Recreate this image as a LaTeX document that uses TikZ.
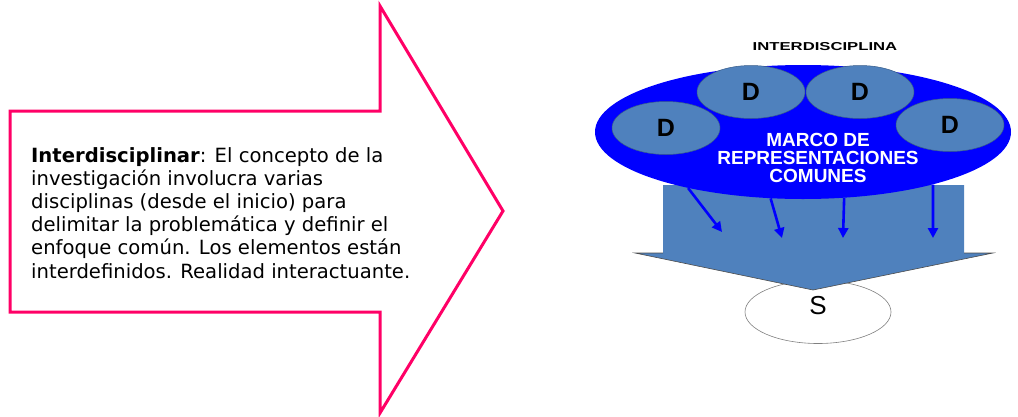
\documentclass[tikz,border=0pt]{standalone}
\usepackage{fontspec}
\setmainfont{DejaVu Sans}
\newfontfamily\arialf{Liberation Sans}
\usetikzlibrary{shapes.geometric,arrows.meta}
\definecolor{pinkline}{RGB}{255,0,102}
\definecolor{steel}{RGB}{79,129,189}
\definecolor{steeldark}{RGB}{56,93,138}
\definecolor{pureblue}{RGB}{0,0,255}
\tikzset{
  dnode/.style={ellipse, fill=steel, draw=steeldark, line width=0.5pt, minimum width=108pt, minimum height=53pt, inner sep=0pt,
    font=\arialf\bfseries\fontsize{25}{25}\selectfont},
  smallarrow/.style={draw=pureblue, line width=2.6pt, -{Triangle[length=10pt,width=10pt]}},
}
\begin{document}
\begin{tikzpicture}[x=1pt,y=-1pt]
\useasboundingbox (0,0) rectangle (1018,416);
% pink block arrow
\draw[pinkline, line width=3pt, line join=miter, fill=white]
  (10,111) -- (380,111) -- (380,6) -- (503,211) -- (380,413) -- (380,312) -- (10,312) -- cycle;
\node[anchor=north west, inner sep=0pt, align=left, font=\fontsize{19.6}{23.2}\selectfont] (txt) at (31,147)
  {\textbf{Interdisciplinar}: El concepto de la\\
   investigación involucra varias\\
   disciplinas (desde el inicio) para\\
   delimitar la problemática y definir el\\
   enfoque común. Los elementos están\\
   interdefinidos. Realidad interactuante.};
% S ellipse
\node[ellipse, draw=gray, fill=white, line width=0.6pt, minimum width=146pt, minimum height=63pt, inner sep=0pt] (s) at (818,312) {};
\node[font=\arialf\fontsize{26}{26}\selectfont, inner sep=0pt] (slab) at (818,306) {S};
% down arrow
\fill[steel] (663,185) -- (964,185) -- (964,253) -- (993,253) -- (813,290) -- (635,253) -- (663,253) -- cycle;
\draw[black!70, line width=0.6pt] (663,253) -- (635,253) -- (813,290) -- (993,253) -- (964,253);
% big ellipse
\node[ellipse, fill=pureblue, minimum width=416pt, minimum height=134pt, inner sep=0pt] (mc) at (803,132) {};
% D ellipses
\node[dnode] (d1) at (666,128) {D};
\node[dnode] (d2) at (751,92) {D};
\node[dnode] (d3) at (860,92) {D};
\node[dnode] (d4) at (950,125) {D};
\node[text=white, align=center, inner sep=0pt, font=\arialf\bfseries\fontsize{19}{18}\selectfont] (marco) at (818,158)
  {MARCO DE\\REPRESENTACIONES\\COMUNES};
\node[inner sep=0pt, font=\arialf\bfseries\fontsize{11.5}{11.5}\selectfont] (title) at (825,47) {\scalebox{1.45}[1]{INTERDISCIPLINA}};
% small arrows
\coordinate (e1) at (722,232);
\coordinate (e2) at (782,238);
\coordinate (e3) at (843,238);
\coordinate (e4) at (933,238);
\draw[smallarrow] (mc.206) -- (e1);
\draw[smallarrow] (mc.244) -- (e2);
\draw[smallarrow] (mc.302) -- (e3);
\draw[smallarrow] (mc.338) -- (e4);
\end{tikzpicture}
\end{document}
